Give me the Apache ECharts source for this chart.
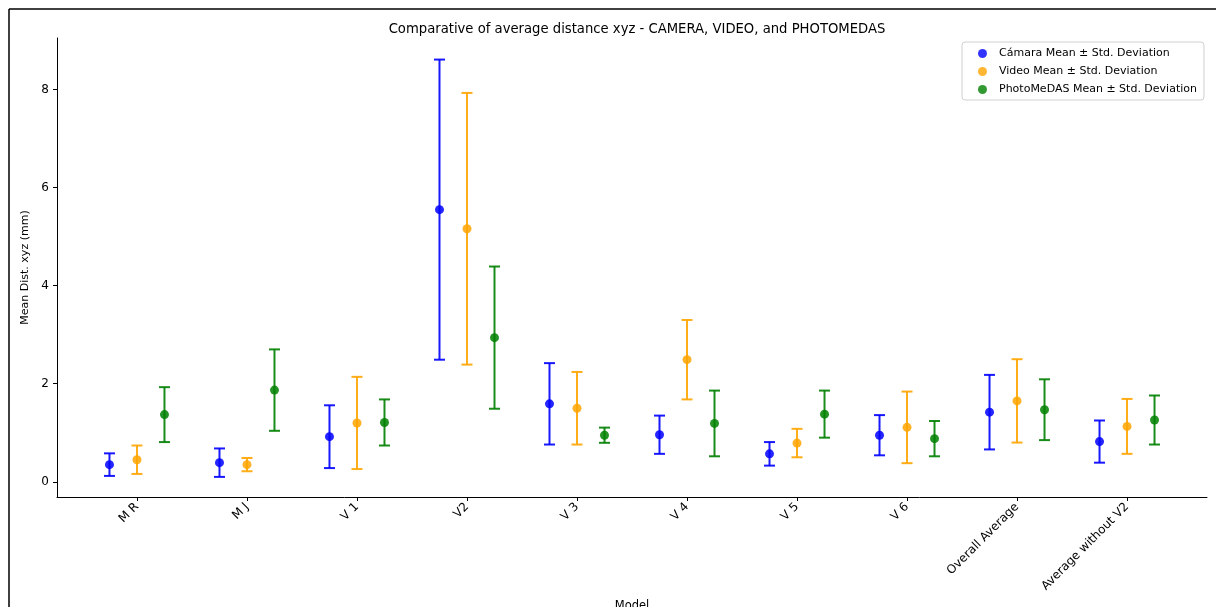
<!DOCTYPE html>
<html>
<head>
<meta charset="utf-8">
<script src="https://cdn.jsdelivr.net/npm/echarts@6/dist/echarts.min.js"></script>
<style>
  html, body { margin: 0; padding: 0; background: #fff; }
  #chart { width: 1216px; height: 607px; }
</style>
</head>
<body>
<div id="chart"></div>
<script>
// categories and values
const categories = ['M R', 'M J', 'V 1', 'V2', 'V 3', 'V 4', 'V 5', 'V 6', 'Overall Average', 'Average without V2'];
const cameraMean = [0.35, 0.39, 0.92, 5.55, 1.59, 0.96, 0.57, 0.95, 1.42, 0.82];
const cameraStd  = [0.23, 0.29, 0.64, 3.06, 0.83, 0.39, 0.24, 0.41, 0.76, 0.43];
const videoMean  = [0.45, 0.35, 1.20, 5.16, 1.50, 2.49, 0.79, 1.11, 1.65, 1.13];
const videoStd   = [0.29, 0.135, 0.94, 2.77, 0.74, 0.81, 0.29, 0.73, 0.85, 0.56];
const photoMean  = [1.37, 1.87, 1.21, 2.94, 0.95, 1.19, 1.38, 0.88, 1.47, 1.26];
const photoStd   = [0.56, 0.83, 0.47, 1.45, 0.155, 0.67, 0.48, 0.36, 0.62, 0.50];
const yTicks = [0, 2, 4, 6, 8];

const chart = echarts.init(document.getElementById('chart'));

// error bar + mean point, drawn through the axes
function errorBar(color) {
  return function (params, api) {
    const x = api.value(0), m = api.value(1), s = api.value(2);
    const top = api.coord([x, m + s]);
    const bot = api.coord([x, m - s]);
    const c = api.coord([x, m]);
    const hw = 5.5;
    return {
      type: 'group',
      children: [
        { type: 'line', shape: { x1: top[0], y1: top[1], x2: bot[0], y2: bot[1] }, style: { stroke: color, lineWidth: 2, opacity: 0.9 } },
        { type: 'line', shape: { x1: top[0] - hw, y1: top[1], x2: top[0] + hw, y2: top[1] }, style: { stroke: color, lineWidth: 2, opacity: 0.9 } },
        { type: 'line', shape: { x1: bot[0] - hw, y1: bot[1], x2: bot[0] + hw, y2: bot[1] }, style: { stroke: color, lineWidth: 2, opacity: 0.9 } },
        { type: 'circle', shape: { cx: c[0], cy: c[1], r: 4.5 }, style: { fill: color, opacity: 0.85 } }
      ]
    };
  };
}

function makeSeries(name, color, means, stds, offset) {
  return {
    name: name,
    type: 'custom',
    renderItem: errorBar(color),
    itemStyle: { color: color, opacity: 0.8 },
    encode: { x: 0, y: 1 },
    data: means.map((m, i) => [i + offset, m, stds[i]]),
    z: 3
  };
}

const option = {
  backgroundColor: '#fff',
  animation: false,
  title: {
    text: 'Comparative of average distance xyz - CAMERA, VIDEO, and PHOTOMEDAS',
    left: 632,
    textAlign: 'center',
    top: 18,
    textStyle: { fontFamily: 'DejaVu Sans', fontSize: 13.2, fontWeight: 'normal', color: '#000' }
  },
  legend: {
    orient: 'vertical',
    left: 962,
    top: 42,
    padding: [6, 7, 5, 16],
    itemWidth: 9,
    itemHeight: 9,
    itemGap: 7,
    icon: 'circle',
    borderColor: '#d0d0d0',
    borderWidth: 1,
    borderRadius: 3,
    textStyle: { fontFamily: 'DejaVu Sans', fontSize: 11, color: '#000', padding: [0, 0, 0, 7] },
    data: ['Cámara Mean ± Std. Deviation', 'Video Mean ± Std. Deviation', 'PhotoMeDAS Mean ± Std. Deviation']
  },
  grid: { left: 57, right: 9, top: 38, bottom: 110, outerBoundsMode: 'none', containLabel: false },
  xAxis: {
    type: 'value',
    min: -0.727,
    max: 9.727,
    name: 'Model',
    nameLocation: 'middle',
    nameGap: 98,
    nameTextStyle: { fontFamily: 'DejaVu Sans', fontSize: 11.5, color: '#000' },
    splitLine: { show: false },
    axisLine: { onZero: false, lineStyle: { color: '#000', width: 1 } },
    axisTick: { customValues: categories.map((c, i) => i), length: 4, lineStyle: { color: '#000' } },
    axisLabel: {
      customValues: categories.map((c, i) => i),
      formatter: v => categories[Math.round(v)],
      rotate: 45,
      margin: 8,
      fontFamily: 'DejaVu Sans',
      fontSize: 12,
      color: '#000'
    }
  },
  yAxis: {
    type: 'value',
    min: -0.31,
    max: 9.05,
    name: 'Mean Dist. xyz (mm)',
    nameLocation: 'middle',
    nameGap: 25,
    nameTextStyle: { fontFamily: 'DejaVu Sans', fontSize: 11, color: '#000' },
    splitLine: { show: false },
    axisLine: { show: true, onZero: false, lineStyle: { color: '#000', width: 1 } },
    axisTick: { show: true, customValues: yTicks, length: 4, lineStyle: { color: '#000' } },
    axisLabel: {
      customValues: yTicks,
      margin: 8,
      fontFamily: 'DejaVu Sans',
      fontSize: 12,
      color: '#000'
    }
  },
  graphic: [
    { type: 'line', shape: { x1: 9, y1: 9, x2: 1216, y2: 9 }, style: { stroke: '#000', lineWidth: 1.5 } },
    { type: 'line', shape: { x1: 9, y1: 9, x2: 9, y2: 607 }, style: { stroke: '#000', lineWidth: 1.5 } }
  ],
  series: [
    makeSeries('Cámara Mean ± Std. Deviation', '#0000ff', cameraMean, cameraStd, -0.25),
    makeSeries('Video Mean ± Std. Deviation', '#ffa500', videoMean, videoStd, 0),
    makeSeries('PhotoMeDAS Mean ± Std. Deviation', '#008000', photoMean, photoStd, 0.25)
  ]
};

chart.setOption(option);
</script>
</body>
</html>
